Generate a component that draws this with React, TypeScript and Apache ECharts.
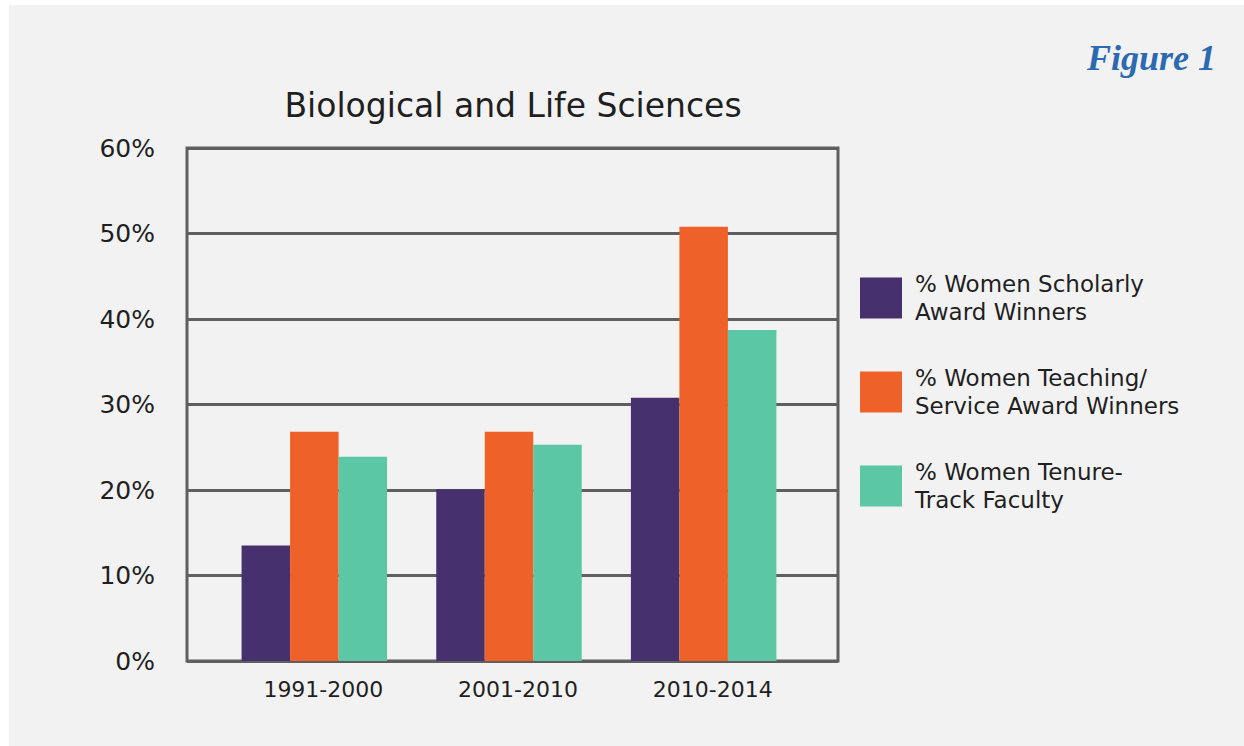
import React, { useEffect, useRef } from "react";
import * as echarts from "echarts";

const categories = ["1991-2000", "2001-2010", "2010-2014"];
const seriesNames = [
  "% Women Scholarly\nAward Winners",
  "% Women Teaching/\nService Award Winners",
  "% Women Tenure-\nTrack Faculty",
];
const scholarly = [13.5, 20.1, 30.8];
const teaching = [26.8, 26.8, 50.8];
const tenure = [23.9, 25.3, 38.7];
const colors = ["#46316e", "#ee6129", "#5bc7a5"];
const yTicks = { min: 0, max: 60, interval: 10 };

const FONT = "DejaVu Sans";
const TXT = "#1f1f1f";
const LINE = "#5f5f5f";

export default function App() {
  const ref = useRef<HTMLDivElement>(null);
  useEffect(() => {
    if (!ref.current) return;
    document.documentElement.style.background = "#f2f2f2";
    document.body.style.background = "#f2f2f2";
    const chart = echarts.init(ref.current, null, { renderer: "svg" });
    const values = [scholarly, teaching, tenure];
    chart.setOption({
      animation: false,
      backgroundColor: "#f2f2f2",
      graphic: [
        { type: "rect", z: -10, shape: { x: 0, y: 0, width: 9, height: 746 }, style: { fill: "#ffffff" } },
        { type: "rect", z: -10, shape: { x: 0, y: 0, width: 1244, height: 5 }, style: { fill: "#ffffff" } },
        {
          type: "text", left: 1087, top: 40,
          style: { text: "Figure 1", fill: "#2c69b0", font: "italic bold 36px 'Liberation Serif'" },
        },
      ],
      title: {
        text: "Biological and Life Sciences",
        left: 508, top: 84, textAlign: "center",
        textStyle: { fontFamily: FONT, fontSize: 33, fontWeight: "normal", color: TXT },
      },
      legend: {
        orient: "vertical",
        left: 860, top: 270, padding: 0,
        itemWidth: 42, itemHeight: 41, itemGap: 38,
        icon: "rect",
        data: seriesNames,
        textStyle: { fontFamily: FONT, fontSize: 23, color: TXT, lineHeight: 28, padding: [0, 0, 0, 8] },
      },
      grid: [
        { left: 187, top: 148, width: 651, height: 513, show: true, borderColor: LINE, borderWidth: 3, backgroundColor: "transparent" },
        { left: 217, top: 148, width: 584, height: 513 },
      ],
      xAxis: [
        { type: "category", gridIndex: 0, show: false, data: categories },
        {
          type: "category", gridIndex: 1, data: categories,
          axisLine: { show: false }, axisTick: { show: false },
          axisLabel: { margin: 17, fontFamily: FONT, fontSize: 22, color: TXT, padding: [0, 0, 0, 18] },
        },
      ],
      yAxis: [
        {
          type: "value", gridIndex: 0, ...yTicks,
          axisLine: { show: false }, axisTick: { show: false },
          axisLabel: { formatter: "{value}%", margin: 32, fontFamily: FONT, fontSize: 25, color: TXT, padding: [8, 0, 0, 0] },
          splitLine: { lineStyle: { color: LINE, width: 3 } },
        },
        { type: "value", gridIndex: 1, ...yTicks, show: false, splitLine: { show: false } },
      ],
      series: seriesNames.map((name, i) => ({
        name, type: "bar", xAxisIndex: 1, yAxisIndex: 1,
        data: values[i], barWidth: 48.5, barGap: "0%",
        itemStyle: { color: colors[i] }, z: 5,
      })),
    });
    return () => chart.dispose();
  }, []);
  return <div ref={ref} style={{ position: "fixed", left: 0, top: 0, width: 1244, height: 746 }} />;
}
